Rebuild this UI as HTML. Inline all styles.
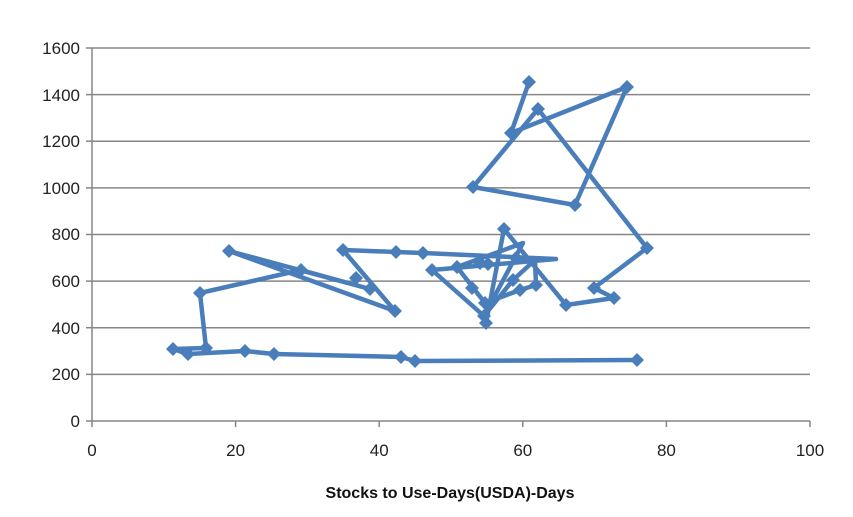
<!DOCTYPE html>
<html><head><meta charset="utf-8"><style>
html,body{margin:0;padding:0;background:#fff;}
svg{display:block;font-family:"Liberation Sans",sans-serif;}
</style></head><body>
<svg width="853" height="517" viewBox="0 0 853 517" xmlns="http://www.w3.org/2000/svg">
<g stroke="#868686" stroke-width="1.5">
<line x1="92" y1="48" x2="810" y2="48"/>
<line x1="92" y1="94.6" x2="810" y2="94.6"/>
<line x1="92" y1="141.2" x2="810" y2="141.2"/>
<line x1="92" y1="187.9" x2="810" y2="187.9"/>
<line x1="92" y1="234.5" x2="810" y2="234.5"/>
<line x1="92" y1="281.1" x2="810" y2="281.1"/>
<line x1="92" y1="327.7" x2="810" y2="327.7"/>
<line x1="92" y1="374.4" x2="810" y2="374.4"/>
<line x1="86" y1="421" x2="810" y2="421"/>
<line x1="92" y1="48" x2="92" y2="427"/>
<line x1="86" y1="48" x2="92" y2="48"/><line x1="86" y1="94.6" x2="92" y2="94.6"/><line x1="86" y1="141.2" x2="92" y2="141.2"/><line x1="86" y1="187.9" x2="92" y2="187.9"/><line x1="86" y1="234.5" x2="92" y2="234.5"/><line x1="86" y1="281.1" x2="92" y2="281.1"/><line x1="86" y1="327.7" x2="92" y2="327.7"/><line x1="86" y1="374.4" x2="92" y2="374.4"/>
<line x1="235.6" y1="421" x2="235.6" y2="427"/><line x1="379.2" y1="421" x2="379.2" y2="427"/><line x1="522.8" y1="421" x2="522.8" y2="427"/><line x1="666.4" y1="421" x2="666.4" y2="427"/><line x1="810" y1="421" x2="810" y2="427"/>
</g>
<g font-size="17" fill="#222" text-anchor="end">
<text x="80" y="54">1600</text><text x="80" y="101">1400</text><text x="80" y="147">1200</text><text x="80" y="194">1000</text><text x="80" y="240">800</text><text x="80" y="287">600</text><text x="80" y="334">400</text><text x="80" y="380">200</text><text x="80" y="427">0</text>
</g>
<g font-size="17" fill="#222" text-anchor="middle">
<text x="92" y="456">0</text><text x="235.6" y="456">20</text><text x="379.2" y="456">40</text><text x="522.8" y="456">60</text><text x="666.4" y="456">80</text><text x="810" y="456">100</text>
</g>
<text x="450" y="498" font-size="16" font-weight="bold" text-anchor="middle" fill="#111">Stocks to Use-Days(USDA)-Days</text>
<defs><path id="d" d="M0,-7L7,0L0,7L-7,0Z" fill="#4a7ebb"/></defs>
<polyline fill="none" stroke="#4a7ebb" stroke-width="4.5" stroke-linejoin="round" points="637,360 415,361 401,357 274,354 245,351 188,354 173,349 206,348 200,293 301,270 370,289 229,251 395,311 343,250 396,252 423,253 556,259 432,270 484,316 523,243 457,267 485,303 520,290 536,285 535,260 513,280 484,316 486,323 504,229 566,305 614,298 594,288 647,248 538,109 473,187 575,205 627,87 511,133 529,82"/>
<g>
<use href="#d" x="637" y="360"/><use href="#d" x="415" y="361"/><use href="#d" x="401" y="357"/><use href="#d" x="274" y="354"/><use href="#d" x="245" y="351"/><use href="#d" x="188" y="354"/><use href="#d" x="173" y="349"/><use href="#d" x="206" y="348"/><use href="#d" x="200" y="293"/><use href="#d" x="301" y="270"/><use href="#d" x="370" y="289"/><use href="#d" x="229" y="251"/><use href="#d" x="395" y="311"/><use href="#d" x="343" y="250"/><use href="#d" x="356" y="278"/><use href="#d" x="396" y="252"/><use href="#d" x="423" y="253"/><use href="#d" x="432" y="270"/><use href="#d" x="484" y="316"/><use href="#d" x="488" y="264"/><use href="#d" x="457" y="267"/><use href="#d" x="485" y="303"/><use href="#d" x="520" y="290"/><use href="#d" x="536" y="285"/><use href="#d" x="513" y="280"/><use href="#d" x="486" y="323"/><use href="#d" x="504" y="229"/><use href="#d" x="566" y="305"/><use href="#d" x="614" y="298"/><use href="#d" x="594" y="288"/><use href="#d" x="647" y="248"/><use href="#d" x="538" y="109"/><use href="#d" x="473" y="187"/><use href="#d" x="575" y="205"/><use href="#d" x="627" y="87"/><use href="#d" x="511" y="133"/><use href="#d" x="529" y="82"/><use href="#d" x="472" y="288"/><use href="#d" x="480" y="263"/><use href="#d" x="516" y="258"/>
</g>
</svg>
</body></html>
